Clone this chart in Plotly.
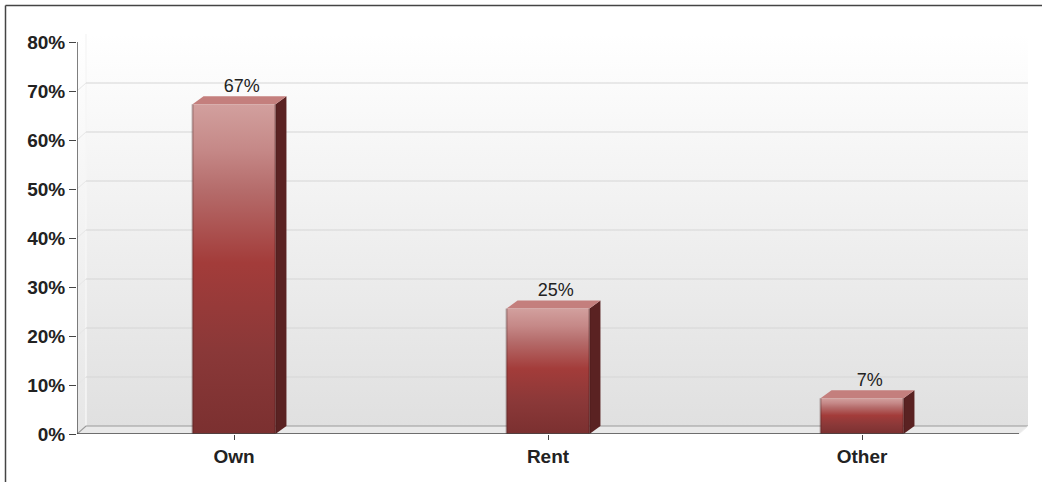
import plotly.graph_objects as go

categories = ["Own", "Rent", "Other"]
values = [67.3, 25.6, 7.3]
value_labels = ["67%", "25%", "7%"]
y_ticks = [0, 10, 20, 30, 40, 50, 60, 70, 80]
y_tick_labels = ["0%", "10%", "20%", "30%", "40%", "50%", "60%", "70%", "80%"]

W, H = 1042, 482
PX_L, PX_R, PX_T, PX_B = 77, 1028, 34, 434
CAT_W = (1020 - 77) / 3
PCT = (434 - 42) / 80
DX = 9 / CAT_W
DY = 8 / PCT
XMIN, XMAX = -0.5, 2.5
YMAX = 80
BAR_W = 83 / CAT_W
BDX = 11 / CAT_W
BDY = 8 / PCT
GRID = "#d6d6d6"
AXIS = "#555555"

def grad(stops):
    return dict(type="vertical", colorscale=stops)

def poly(xs, ys, fill=None, gradient=None):
    t = dict(x=xs, y=ys, mode="lines", fill="toself", hoverinfo="skip", showlegend=False,
             line=dict(width=0, color="rgba(0,0,0,0)"))
    if gradient:
        t["fillgradient"] = gradient
    else:
        t["fillcolor"] = fill
    return go.Scatter(**t)

def segment(xs, ys, color, width=1):
    return go.Scatter(x=xs, y=ys, mode="lines", hoverinfo="skip", showlegend=False,
                      line=dict(color=color, width=width))

fig = go.Figure()
x1 = XMAX
wall_stops = [[0, "#e0e0e0"], [1, "#ffffff"]]
fig.add_trace(poly([XMIN + DX, x1 + DX, x1 + DX, XMIN + DX, XMIN + DX], [DY, DY, YMAX + DY, YMAX + DY, DY],
                   gradient=grad(wall_stops)))
fig.add_trace(poly([XMIN, XMIN + DX, XMIN + DX, XMIN, XMIN], [0, DY, YMAX + DY, YMAX, 0],
                   gradient=grad([[0, "#e6e6e6"], [1, "#ffffff"]])))
fig.add_trace(poly([XMIN, x1, x1 + DX, XMIN + DX, XMIN], [0, 0, DY, DY, 0], fill="#e9e9e9"))
fig.add_trace(segment([XMIN + DX, XMIN + DX], [DY, YMAX + DY], "#f6f6f6", 1.5))
for v in y_ticks[1:-1]:
    fig.add_trace(segment([XMIN, XMIN + DX], [v, v + DY], "#e6e6e6", 1))
    fig.add_trace(segment([XMIN + DX, x1 + DX], [v + DY, v + DY], GRID, 1.2))
fig.add_trace(segment([XMIN, XMIN + DX, x1 + DX], [0, DY, DY], "#9a9a9a", 1.2))
fig.add_trace(segment([x1, x1 + DX], [0, DY], "#eeeeee", 1))

front_stops = [[0, "#7b3030"], [0.25, "#8a3838"], [0.52, "#a33c3a"], [0.74, "#b56c6b"],
               [0.86, "#c58887"], [1, "#d2a09e"]]
for i, (c, v) in enumerate(zip(categories, values)):
    l, r = i - BAR_W / 2, i + BAR_W / 2
    fig.add_trace(poly([r, r + BDX, r + BDX, r, r], [0, BDY, v + BDY, v, 0], fill="#5a2222"))
    fig.add_trace(poly([l, r, r + BDX, l + BDX, l], [v, v, v + BDY, v + BDY, v], fill="#c47f7d"))
    fig.add_trace(poly([l, r, r, l, l], [0, 0, v, v, 0], gradient=grad(front_stops)))
    fig.add_trace(segment([l, l], [0, v], "rgba(60,20,20,0.3)", 2))
    fig.add_trace(segment([r, r], [0, v], "rgba(60,20,20,0.35)", 2))
    fig.add_trace(go.Scatter(x=[i + BDX * 0.7], y=[v + BDY], mode="text", text=[value_labels[i]],
                             textposition="top center", hoverinfo="skip", showlegend=False,
                             textfont=dict(family="Liberation Sans", size=18, color="#222222")))
fig.add_trace(segment([XMIN, XMIN], [0, YMAX], AXIS, 1.5))
fig.add_trace(segment([XMIN, x1], [0, 0], "#444444", 1.5))

fig.update_layout(
    width=W, height=H, paper_bgcolor="white", plot_bgcolor="white", showlegend=False,
    margin=dict(l=PX_L, r=W - PX_R, t=PX_T, b=H - PX_B),
    xaxis=dict(range=[XMIN, x1 + DX], tickvals=[0, 1, 2], ticktext=categories, showgrid=False, zeroline=False,
               ticks="outside", ticklen=5, tickcolor="#444444", tickwidth=1, showline=False,
               tickfont=dict(family="Liberation Sans", size=19, color="#222222", weight="bold")),
    yaxis=dict(range=[0, YMAX + DY], tickvals=y_ticks, ticktext=y_tick_labels, showgrid=False, zeroline=False,
               ticks="outside", ticklen=7, tickcolor="#444444", tickwidth=1, showline=False,
               tickfont=dict(family="Liberation Sans", size=19, color="#222222", weight="bold")),
    shapes=[
        dict(type="line", xref="paper", yref="paper",
             x0=(5.5 - PX_L) / (PX_R - PX_L), x1=(5.5 - PX_L) / (PX_R - PX_L),
             y0=(PX_B - 482) / (PX_B - PX_T), y1=(PX_B - 5.5) / (PX_B - PX_T),
             line=dict(color="#444444", width=1.5)),
        dict(type="line", xref="paper", yref="paper",
             x0=(5.5 - PX_L) / (PX_R - PX_L), x1=(1042 - PX_L) / (PX_R - PX_L),
             y0=(PX_B - 5.5) / (PX_B - PX_T), y1=(PX_B - 5.5) / (PX_B - PX_T),
             line=dict(color="#444444", width=1.5)),
    ],
)
fig.write_html("out.html", config={"displayModeBar": False}, post_script="document.body.style.margin='0';")
